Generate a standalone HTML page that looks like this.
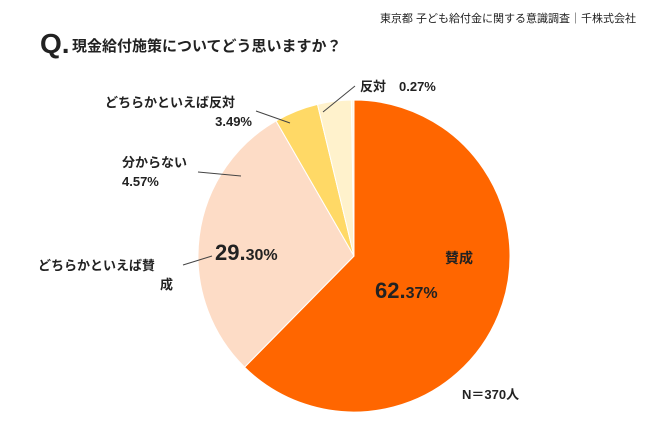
<!DOCTYPE html>
<html><head><meta charset="utf-8">
<style>
body{margin:0;background:#fff;}
svg text{font-family:"Liberation Sans","Noto Sans CJK JP",sans-serif;fill:#222;}
</style></head>
<body>
<svg width="650" height="427" viewBox="0 0 650 427">
<text x="636" y="22" text-anchor="end" font-size="11">東京都 子ども給付金に関する意識調査｜千株式会社</text>
<text x="40" y="53" font-size="28" font-weight="bold">Q.</text>
<text x="72" y="51" font-size="15" font-weight="bold">現金給付施策についてどう思いますか？</text>
<g id="slices"></g>
<g font-weight="bold">
<text x="445" y="263" font-size="14">賛成</text>
<text x="375" y="298"><tspan font-size="22">62.</tspan><tspan font-size="16">37%</tspan></text>
<text x="215" y="260"><tspan font-size="22">29.</tspan><tspan font-size="16">30%</tspan></text>
<text x="38" y="270" font-size="13">どちらかといえば賛</text>
<text x="160" y="289" font-size="13">成</text>
<line x1="183" y1="265" x2="212" y2="256" stroke="#444"/>
<text x="122" y="167" font-size="13">分からない</text>
<text x="122" y="186" font-size="13">4.57%</text>
<line x1="198" y1="172" x2="241" y2="176" stroke="#444"/>
<text x="105" y="107" font-size="13">どちらかといえば反対</text>
<text x="252" y="126" font-size="13" text-anchor="end">3.49%</text>
<line x1="256" y1="111" x2="290" y2="123" stroke="#444"/>
<text x="360" y="91" font-size="13">反対　0.27%</text>
<line x1="355" y1="86" x2="323" y2="112" stroke="#444"/>
<text x="462" y="399" font-size="13">N＝370人</text>
</g>
</svg>
<script>
const categories=["賛成","どちらかといえば賛成","分からない","どちらかといえば反対","反対"];
const values=[62.37,29.30,4.57,3.49,0.27];
const colors=["#FF6600","#FDDCC6","#FFD966","#FFF2CC","#FFF7E6"];
const cx=354,cy=256,r=156;
const g=document.getElementById('slices');
const total=values.reduce((a,b)=>a+b,0);
let a0=0;
values.forEach((v,i)=>{
  const a1=a0+v/total*2*Math.PI;
  const p=(a)=>[cx+r*Math.sin(a),cy-r*Math.cos(a)];
  const [x0,y0]=p(a0),[x1,y1]=p(a1);
  const path=document.createElementNS('http://www.w3.org/2000/svg','path');
  path.setAttribute('d',`M${cx},${cy}L${x0},${y0}A${r},${r} 0 ${a1-a0>Math.PI?1:0} 1 ${x1},${y1}Z`);
  path.setAttribute('fill',colors[i]);
  path.setAttribute('stroke','#fff');
  path.setAttribute('stroke-width','1');
  
  
  g.appendChild(path);
  a0=a1;
});
</script>
</body></html>
